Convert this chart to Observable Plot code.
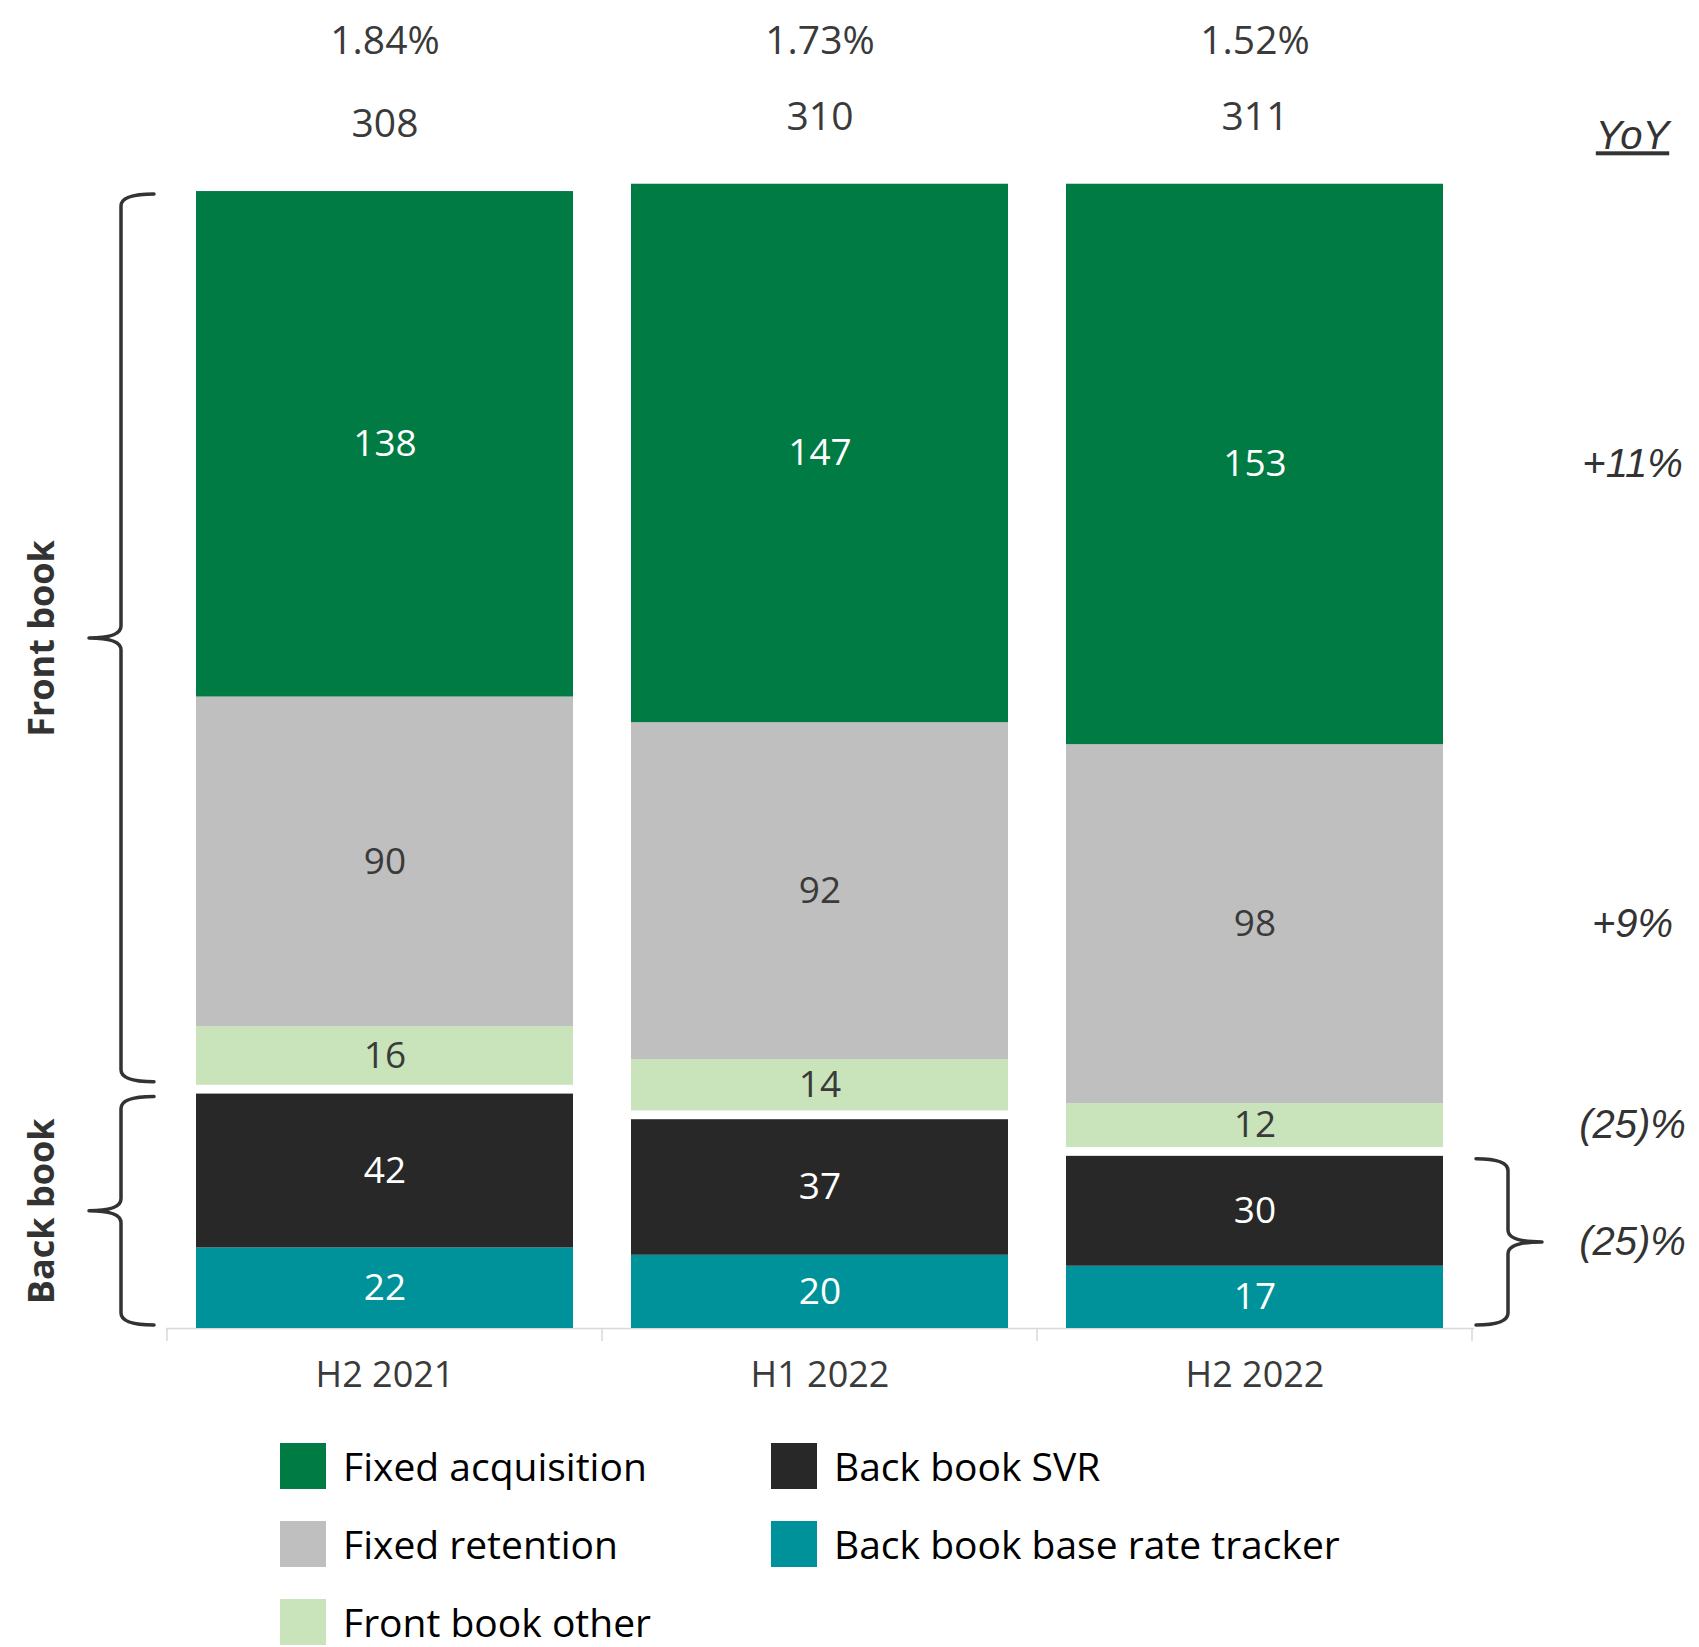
<!DOCTYPE html>
<html>
<head>
<meta charset="utf-8">
<script src="https://cdn.jsdelivr.net/npm/d3@7"></script>
<script src="https://cdn.jsdelivr.net/npm/@observablehq/plot@0.6"></script>
<style>
  body { margin: 0; background: #fff; }
  #wrap { position: relative; width: 1699px; height: 1647px; overflow: hidden; font-family: "Open Sans", sans-serif; }
  #legend { position: absolute; left: 280px; top: 1443px; display: grid; grid-template-rows: repeat(3, 46px); grid-auto-flow: column; grid-template-columns: 491px auto; row-gap: 32px; }
  .item { display: flex; align-items: center; font-size: 39px; line-height: 0.9; color: #000; white-space: nowrap; }
  .sw { width: 46px; height: 46px; margin-right: 17px; flex: none; }
</style>
</head>
<body>
<div id="wrap"><div id="chart"></div><div id="legend"></div></div>
<script>
// ---- data ----
const periods = ["H2 2021", "H1 2022", "H2 2022"];
const fixedAcquisition = [138, 147, 153];
const fixedRetention = [90, 92, 98];
const frontBookOther = [16, 14, 12];
const backBookSVR = [42, 37, 30];
const backBookTracker = [22, 20, 17];
const totals = [308, 310, 311];
const marginLabels = ["1.84%", "1.73%", "1.52%"];
const yoyLabels = ["+11%", "+9%", "(25)%", "(25)%"];
const groupNames = ["Front book", "Back book"];
const seriesNames = ["Fixed acquisition", "Fixed retention", "Front book other", "Back book SVR", "Back book base rate tracker"];
const seriesColors = ["#007B43", "#BFBFBF", "#C9E4BA", "#282828", "#00929A"];

// ---- layout helpers ----
const seriesValues = [fixedAcquisition, fixedRetention, frontBookOther, backBookSVR, backBookTracker];
const stackOrder = [4, 3, 2, 1, 0]; // bottom -> top
const GAP = 2.4; // visual gap between back book and front book (value units)
const rows = [];
const stacks = [];
periods.forEach((p, i) => {
  let base = 0;
  const st = { period: p, total: totals[i], margin: marginLabels[i] };
  for (const s of stackOrder) {
    if (s === 2) { st.backTop = base; base += GAP; st.frontBottom = base; }
    const v = seriesValues[s][i];
    rows.push({ period: p, series: seriesNames[s], si: s, value: v, y1: base, y2: base + v, dark: s === 1 || s === 2 });
    base += v;
  }
  st.top = base;
  stacks.push(st);
});
const lastP = periods[periods.length - 1];
const segMid = (p, s) => { const r = rows.find(d => d.period === p && d.si === s); return (r.y1 + r.y2) / 2; };
const lastStack = stacks[stacks.length - 1];
const yoyRows = [
  { label: yoyLabels[0], y: segMid(lastP, 0) },
  { label: yoyLabels[1], y: segMid(lastP, 1) },
  { label: yoyLabels[2], y: segMid(lastP, 2) },
  { label: yoyLabels[3], y: lastStack.backTop / 2 }
];
const firstStack = stacks[0];
const groupRows = [
  { label: groupNames[0], y: (firstStack.frontBottom + firstStack.top) / 2 },
  { label: groupNames[1], y: firstStack.backTop / 2 }
];

function bracePath(xv, xe, xt, yt, yb, r) {
  const ym = (yt + yb) / 2;
  return `M${xe},${yt} Q${xv},${yt} ${xv},${yt + r} L${xv},${ym - r} Q${xv},${ym} ${xt},${ym} Q${xv},${ym} ${xv},${ym + r} L${xv},${yb - r} Q${xv},${yb} ${xe},${yb}`;
}

function decorations(index, scales) {
  const x = scales.x, y = scales.y;
  const g = d3.create("svg:g");
  // axis boundary ticks
  const bw = x.bandwidth();
  const step = x.step();
  const bounds = periods.map(p => x(p) - (step - bw) / 2);
  bounds.push(x(lastP) + bw + (step - bw) / 2);
  const y0 = y(0);
  g.append("g").attr("stroke", "#d9d9d9").attr("stroke-width", 1.5)
    .selectAll("line").data(bounds).join("line")
    .attr("x1", d => d).attr("x2", d => d).attr("y1", y0).attr("y2", y0 + 13);
  // braces
  const bg = g.append("g").attr("fill", "none").attr("stroke", "#333").attr("stroke-width", 3.5).attr("stroke-linecap", "round").attr("stroke-linejoin", "round");
  const ins = 3;
  bg.append("path").attr("d", bracePath(121, 154, 89, y(firstStack.top) + ins, y(firstStack.frontBottom) - ins, 12));
  bg.append("path").attr("d", bracePath(121, 154, 89, y(firstStack.backTop) + ins, y(0) - ins, 12));
  bg.append("path").attr("d", bracePath(1508, 1476, 1542, y(lastStack.backTop) + ins, y(0) - ins, 12));
  return g.node();
}

const chart = Plot.plot({
  width: 1699,
  height: 1420,
  marginLeft: 166,
  marginRight: 225,
  marginTop: 46,
  marginBottom: 92,
  style: { fontFamily: '"Open Sans", sans-serif', fontSize: "36px", color: "#3a3a3a", background: "#fff" },
  x: { domain: periods, paddingInner: 0.133, paddingOuter: 0.0667, tickSize: 0, tickPadding: 33, label: null },
  y: { domain: [0, 350], axis: null },
  color: { domain: seriesNames, range: seriesColors },
  marks: [
    Plot.ruleY([0], { stroke: "#d9d9d9", strokeWidth: 1.5 }),
    Plot.barY(rows, { x: "period", y1: "y1", y2: "y2", fill: "series" }),
    Plot.text(rows.filter(d => !d.dark), { x: "period", y: d => (d.y1 + d.y2) / 2, text: d => String(d.value), fill: "#ffffff", fontSize: 37 }),
    Plot.text(rows.filter(d => d.dark), { x: "period", y: d => (d.y1 + d.y2) / 2, text: d => String(d.value), fill: "#3a3a3a", fontSize: 37 }),
    Plot.text(stacks, { x: "period", y: "top", text: d => String(d.total), dy: -67, fontSize: 39, fill: "#3a3a3a" }),
    Plot.text(stacks, { x: "period", text: "margin", frameAnchor: "top", lineAnchor: "middle", dy: -5, fontSize: 39, fill: "#3a3a3a" }),
    Plot.text(yoyRows, { y: "y", text: "label", frameAnchor: "right", textAnchor: "middle", lineAnchor: "middle", dx: 158, fontStyle: "italic", fontFamily: '"Liberation Sans", Arial, sans-serif', fontSize: 40, fill: "#333" }),
    Plot.text(["YoY"], { text: d => d, frameAnchor: "top-right", textAnchor: "middle", lineAnchor: "middle", dx: 158, dy: 90, fontStyle: "italic", fontFamily: '"Liberation Sans", Arial, sans-serif', fontSize: 40, fill: "#333" }),
    Plot.text(groupRows, { y: "y", text: "label", frameAnchor: "left", textAnchor: "middle", lineAnchor: "middle", dx: -124, rotate: -90, fontWeight: "bold", fontSize: 36, fill: "#333" }),
    decorations
  ]
});
d3.select(chart).selectAll("text").filter(function () { return this.textContent === "YoY"; }).style("text-decoration", "underline");
document.getElementById("chart").appendChild(chart);

// ---- legend ----
const legendOrder = [0, 1, 2, 3, 4];
const legend = d3.select("#legend");
legendOrder.forEach(i => {
  const it = legend.append("div").attr("class", "item");
  it.append("div").attr("class", "sw").style("background", seriesColors[i]);
  it.append("span").text(seriesNames[i]);
});
</script>
</body>
</html>
